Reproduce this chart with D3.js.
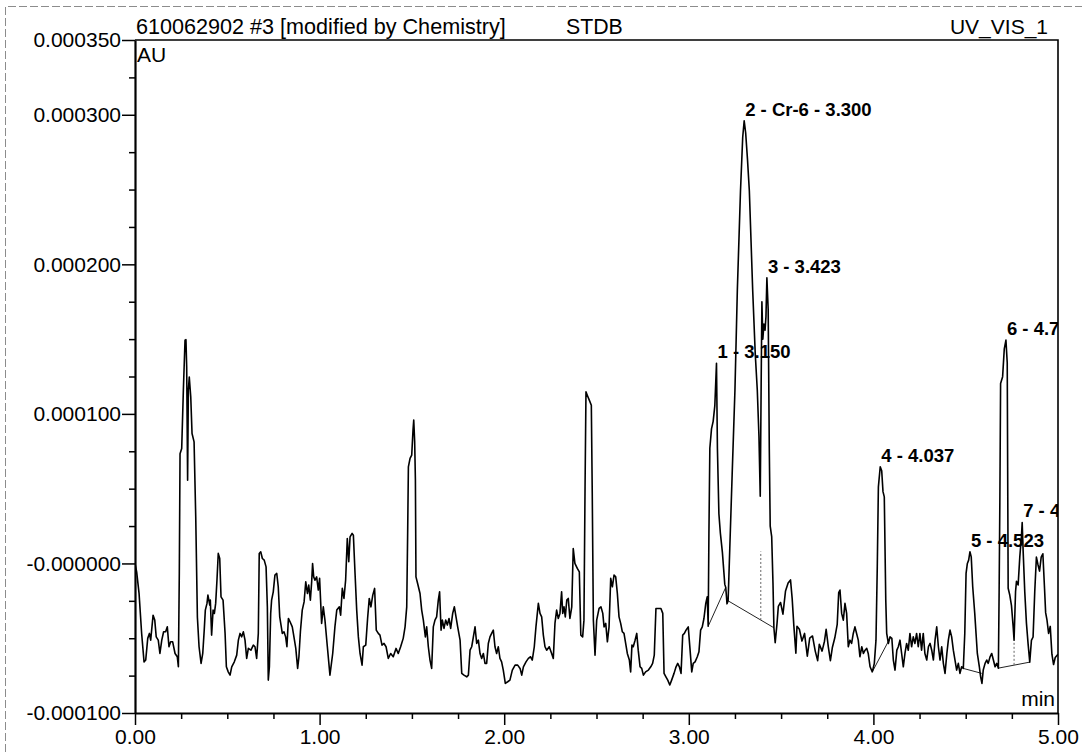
<!DOCTYPE html>
<html>
<head>
<meta charset="utf-8">
<script src="https://cdn.jsdelivr.net/npm/d3@7"></script>
<style>
  html, body { margin: 0; padding: 0; background: #fff; }
  svg { display: block; font-family: "Liberation Sans", Arial, sans-serif; }
</style>
</head>
<body>
<svg id="chart" width="1082" height="752"></svg>
<script>
// Chromatogram UV_VIS_1, retention time in minutes, signal in micro-AU (1e-6 AU)
const retentionTime = [
  0.000,0.009,0.022,0.036,0.049,0.058,0.069,0.078,0.085,0.098,0.107,0.115,0.126,0.135,0.145,0.155,0.166,0.175,0.184,0.193,
  0.204,0.217,0.229,0.235,0.240,0.244,0.253,0.262,0.271,0.276,0.280,0.285,0.289,0.294,0.302,0.309,0.320,0.329,0.338,0.347,
  0.358,0.367,0.375,0.381,0.390,0.395,0.405,0.408,0.415,0.423,0.430,0.437,0.444,0.451,0.459,0.466,0.477,0.488,0.495,0.505,
  0.515,0.524,0.538,0.551,0.560,0.569,0.578,0.587,0.596,0.605,0.614,0.628,0.641,0.650,0.659,0.668,0.673,0.681,0.690,0.700,
  0.710,0.717,0.722,0.728,0.735,0.740,0.749,0.758,0.768,0.776,0.784,0.791,0.798,0.807,0.816,0.823,0.831,0.840,0.852,0.861,
  0.871,0.881,0.888,0.896,0.906,0.916,0.925,0.934,0.941,0.950,0.957,0.962,0.968,0.975,0.984,0.993,1.000,1.011,1.020,1.029,
  1.042,1.056,1.071,1.083,1.093,1.107,1.114,1.123,1.132,1.141,1.150,1.158,1.165,1.176,1.183,1.192,1.201,1.210,1.219,1.230,
  1.237,1.250,1.260,1.269,1.278,1.288,1.298,1.307,1.318,1.327,1.338,1.349,1.360,1.372,1.385,1.399,1.414,1.426,1.439,1.453,
  1.463,1.472,1.477,1.481,1.490,1.499,1.506,1.510,1.515,1.519,1.522,1.531,1.544,1.553,1.562,1.573,1.580,1.589,1.598,1.607,
  1.616,1.625,1.634,1.643,1.650,1.658,1.665,1.674,1.683,1.692,1.701,1.710,1.721,1.730,1.739,1.748,1.761,1.770,1.782,1.797,
  1.806,1.815,1.824,1.833,1.842,1.851,1.860,1.869,1.878,1.887,1.896,1.905,1.914,1.923,1.932,1.941,1.950,1.959,1.968,1.977,
  1.986,1.995,2.006,2.019,2.031,2.044,2.059,2.073,2.086,2.095,2.104,2.118,2.131,2.143,2.152,2.163,2.172,2.185,2.194,2.203,
  2.212,2.221,2.230,2.244,2.257,2.266,2.275,2.284,2.293,2.302,2.311,2.317,2.324,2.331,2.339,2.347,2.356,2.366,2.374,2.383,
  2.396,2.407,2.415,2.425,2.432,2.438,2.443,2.450,2.461,2.472,2.477,2.483,2.492,2.501,2.514,2.524,2.534,2.541,2.550,2.559,
  2.568,2.577,2.586,2.595,2.604,2.613,2.622,2.631,2.640,2.649,2.658,2.667,2.678,2.685,2.692,2.699,2.709,2.718,2.726,2.736,
  2.745,2.754,2.766,2.781,2.794,2.804,2.813,2.822,2.835,2.849,2.859,2.866,2.876,2.886,2.897,2.907,2.920,2.931,2.940,2.949,
  2.958,2.967,2.976,2.985,2.997,3.007,3.016,3.024,3.034,3.046,3.055,3.064,3.073,3.082,3.092,3.100,3.105,3.109,3.114,3.123,
  3.132,3.141,3.150,3.155,3.163,3.171,3.182,3.195,3.200,3.204,3.207,3.213,3.222,3.235,3.250,3.263,3.280,3.292,3.300,3.308,
  3.318,3.328,3.346,3.360,3.371,3.380,3.387,3.392,3.396,3.401,3.407,3.413,3.418,3.423,3.430,3.436,3.441,3.449,3.456,3.461,
  3.468,3.478,3.485,3.497,3.510,3.524,3.538,3.551,3.560,3.569,3.580,3.586,3.599,3.613,3.627,3.642,3.655,3.670,3.685,3.698,
  3.707,3.722,3.735,3.744,3.756,3.767,3.778,3.791,3.804,3.812,3.819,3.828,3.837,3.846,3.855,3.864,3.873,3.882,3.891,3.900,
  3.909,3.918,3.927,3.937,3.946,3.955,3.964,3.972,3.982,3.994,4.005,4.014,4.021,4.027,4.032,4.037,4.045,4.052,4.059,4.067,
  4.072,4.081,4.090,4.100,4.108,4.117,4.127,4.135,4.144,4.153,4.162,4.171,4.180,4.189,4.198,4.207,4.216,4.225,4.234,4.243,
  4.252,4.261,4.270,4.279,4.289,4.298,4.307,4.316,4.325,4.334,4.343,4.352,4.361,4.370,4.379,4.388,4.398,4.406,4.415,4.424,
  4.433,4.442,4.451,4.460,4.469,4.478,4.487,4.495,4.502,4.509,4.516,4.523,4.530,4.538,4.549,4.556,4.563,4.574,4.581,4.588,
  4.595,4.605,4.614,4.622,4.632,4.641,4.650,4.659,4.668,4.677,4.681,4.685,4.689,4.700,4.709,4.718,4.725,4.730,4.739,4.748,
  4.757,4.762,4.770,4.775,4.784,4.793,4.802,4.806,4.811,4.820,4.829,4.838,4.847,4.856,4.865,4.874,4.883,4.891,4.900,4.909,
  4.918,4.927,4.933,4.940,4.949,4.958,4.967,4.976,4.985,5.000
];
const absorbance = [
  0,-5.6,-20,-46.8,-65.8,-64.6,-50.1,-46.8,-51.3,-34.6,-37.9,-49.1,-51.3,-60.2,-51.3,-45.7,-45.7,-42.4,-55.7,-52.4,
  -52.4,-60.2,-62.4,-69.1,-6.7,73.3,76.9,115.8,149.3,149.7,131.4,55.7,115.8,124.7,111.4,86.9,81.3,31.2,-36,-55.7,
  -66.8,-60.2,-44.6,-31.2,-26.7,-21.2,-27.9,-24.5,-47.9,-31.2,-33.4,-26.7,-11.2,6.7,3.3,-22.3,-24.5,-46.8,-69.1,-72.5,
  -74.7,-69.1,-65.8,-61.3,-51.3,-46.8,-49.1,-45.7,-51.3,-63.5,-56.8,-58,-54.6,-55.7,-63.5,-46.8,6.7,7.8,3.3,2.2,
  -2.3,-29,-78,-69.1,-33.4,-24.5,-19,-7.8,-6.7,-15.6,-35.7,-41.2,-46.8,-45.7,-49.1,-55.7,-36.8,-39,-42.4,-49.1,
  -56.8,-70.2,-62.4,-45.7,-31.2,-25.7,-12.3,-20.1,-14.5,-24.5,-12.3,0,-9,-11.2,-9,-17.8,-10,-40.1,-29,-37.9,
  -55.7,-74.7,-60.2,-42.4,-31.2,-29,-34.6,-16.7,-23.4,-11.2,16.7,1.1,17.8,20.1,18.9,-6.7,-31.2,-49.1,-60.2,-68,
  -55.7,-54.6,-36.8,-23.4,-29,-21.2,-16.7,-44.6,-46.8,-47.9,-54.6,-53.5,-55.7,-63.5,-60.2,-62.4,-56.8,-60.2,-55.7,-50.1,
  -42.4,-29,20.1,64.6,70.2,72.4,89.1,95.8,81.3,55.7,-9,-13.4,-20.1,-31.2,-37.9,-49.1,-42.4,-55.7,-64.6,-70.2,
  -42.4,-37.9,-35.7,-24.5,-19,-44.6,-37.9,-43.4,-37.9,-41.2,-36.8,-43.4,-33.4,-29,-35.7,-42.4,-51.3,-73.5,-74.7,-75.8,
  -74.7,-58,-55.7,-49.1,-42.4,-53.5,-51.3,-60.2,-63.5,-60.2,-66.8,-66.8,-53.5,-49.1,-46.8,-44.6,-55.7,-60.2,-55.7,-63.5,
  -65.8,-71.3,-80.2,-79.1,-78,-71.3,-68,-68,-70.2,-74.7,-69.1,-65.8,-63.5,-62.4,-64.6,-55.7,-42.4,-26.7,-33.4,-35.7,
  -47.9,-55.7,-58,-55.7,-60.2,-63.5,-40.1,-31.2,-36.8,-33.4,-19,-33.4,-29,-35.7,-24.5,-23.4,-36.8,-29,10,0,
  -3.3,-5.6,-47.9,-49.1,-37.9,51.2,114.7,112.5,109.2,105.8,46.8,-37.9,-61.3,-37.9,-30.1,-29,-33.4,-42.4,-40.1,-52.4,
  -42.4,-10,-15.6,-7.8,-9,-20.1,-35.7,-40.1,-45.7,-46.8,-53.5,-60.2,-64.6,-72.5,-54.6,-55.7,-51.3,-46.8,-58,-69.1,
  -70.2,-74.7,-72.5,-71.3,-69.1,-66.8,-61.3,-30.1,-30.1,-30.1,-33.4,-73.5,-75.8,-78,-81.3,-78,-73.5,-69.1,-66.8,-69.1,
  -73.5,-47.9,-46.8,-44.6,-42.4,-58,-72.5,-66.8,-65.8,-62.4,-59.1,-44.6,-42.4,-36.8,-26.7,-22.3,-42,20,77,90,
  95,105.5,133.9,77,33.2,20.3,7.4,-14,-16,-22,-27,-25,10,60,116,183,249,285,296,288,
  270,249,183,140,116,85,45,120,175,150,160,156,165,191,170,77,25,18,-13,-43,
  -53,-40,-28.7,-26.1,-33.9,-18.4,-13,-11,-23.5,-41.6,-60,-42,-44,-51.9,-46.8,-62,-50,-48.5,-58.6,-65,
  -54,-58.6,-52,-44,-56,-65,-56,-49.7,-40.7,-19.5,-17.8,-33.4,-37.9,-26.7,-33.4,-55.7,-51.3,-53.5,-46.8,-42.4,
  -46.8,-51.3,-62.4,-55.7,-60.2,-58,-56.8,-60.2,-69.1,-72.5,-66.8,-51.3,-2.3,51.2,58,64.6,62,48,44.5,-24.5,
  -46.8,-53.5,-49.1,-50.1,-64.6,-71.3,-58,-55.7,-51.3,-60.2,-69.1,-60.2,-53.5,-58,-46.8,-55.7,-49.1,-53.5,-46.8,-55.7,
  -46.8,-58,-46.8,-60.2,-64.6,-55.7,-53.5,-58,-64.6,-51.3,-42.4,-55.7,-64.6,-55.7,-66.8,-73.5,-60.2,-51.3,-44.6,-49.1,
  -58,-64.6,-71.3,-66.8,-73.5,-69.1,-70.2,-46.8,-6.7,0,2.2,7.8,4.4,-15.6,-33.4,-46.8,-60.2,-69.1,-75.8,-80.2,
  -71.3,-66.8,-64.6,-66.8,-62.4,-60.2,-64.6,-69.1,-66.8,-70,-20,41,120.3,124.9,143.5,149.3,134.2,-16.6,-21.3,-28.2,
  -42.1,-51.4,-18.9,-12,-14.4,4.2,18.2,27.4,8.8,-19.1,-39.9,-53.8,-66,-51.5,-49.2,-19.1,4.2,-0.5,-5.1,4.2,
  6.5,-16.6,-32.9,-37.5,-46.8,-42.1,-60.7,-67.6,-62.9,-60.7
];

// Axis ticks and their printed labels
const yMajorTicks = [-100, 0, 100, 200, 300, 350];
const yTickLabels = ["-0.000100", "-0.000000", "0.000100", "0.000200", "0.000300", "0.000350"];
const xMajorTicks = [0, 1, 2, 3, 4, 5];
const xTickLabels = ["0.00", "1.00", "2.00", "3.00", "4.00", "5.00"];

// Integrated peaks: label text and retention time of the apex
const peakLabels = ["1 - 3.150", "2 - Cr-6 - 3.300", "3 - 3.423", "4 - 4.037", "5 - 4.523", "6 - 4.7", "7 - 4"];
const peakTimes = [3.150, 3.300, 3.423, 4.037, 4.523, 4.718, 4.806];

// Integration baselines: [t0, v0, t1, v1]
const integrationBaselines = [
  [3.105, -42, 3.200, -16],
  [3.213, -25, 3.461, -43],
  [3.994, -72.5, 4.090, -50],
  [4.487, -70.2, 4.587, -73.5],
  [4.677, -70, 4.847, -66]
];
// Perpendicular drops between fused peaks: [t, vBottom, vTop]
const peakDrops = [
  [3.390, -37.8, 8],
  [4.762, -67.8, -51.4]
];

const headerLeft = "610062902 #3 [modified by Chemistry]";
const headerMid = "STDB";
const headerRight = "UV_VIS_1";

const svg = d3.select("#chart");
const x = d3.scaleLinear().domain([0, 5]).range([135, 1058]);
const y = d3.scaleLinear().domain([-100, 350]).range([713, 40]);

const points = retentionTime.map((t, i) => ({ t, v: absorbance[i] }));

// page border (dashed)
svg.append("path")
  .attr("d", "M5.5,752 V6.5 H1082")
  .attr("fill", "none")
  .attr("stroke", "#8c8c8c")
  .attr("stroke-width", 1)
  .attr("stroke-dasharray", "8,3");

// clip for the plot area
svg.append("clipPath").attr("id", "plotClip")
  .append("rect")
  .attr("x", x(0)).attr("y", y(350))
  .attr("width", x(5) - x(0)).attr("height", y(-100) - y(350));

// frame: top and right edges
svg.append("path")
  .attr("d", `M${x(0)},${y(350)} H${x(5)} V${y(-100)}`)
  .attr("fill", "none")
  .attr("stroke", "#000")
  .attr("stroke-width", 1.6);

// y axis
const yMinor = d3.range(-100, 351, 25).filter(v => !yMajorTicks.includes(v));
const gy = svg.append("g")
  .attr("transform", `translate(${x(0)},0)`)
  .call(d3.axisLeft(y).tickValues(yMajorTicks)
    .tickFormat((d, i) => yTickLabels[i])
    .tickSize(13).tickSizeOuter(0).tickPadding(1));
svg.append("g")
  .attr("transform", `translate(${x(0)},0)`)
  .call(d3.axisLeft(y).tickValues(yMinor).tickFormat("").tickSize(6).tickSizeOuter(0))
  .call(g => g.select(".domain").remove());

// x axis
const xMinor = d3.range(0, 5.001, 0.25).filter(v => Math.abs(v - Math.round(v)) > 1e-6);
const gx = svg.append("g")
  .attr("transform", `translate(0,${y(-100)})`)
  .call(d3.axisBottom(x).tickValues(xMajorTicks)
    .tickFormat((d, i) => xTickLabels[i])
    .tickSize(12).tickSizeOuter(0).tickPadding(4));
svg.append("g")
  .attr("transform", `translate(0,${y(-100)})`)
  .call(d3.axisBottom(x).tickValues(xMinor).tickFormat("").tickSize(6).tickSizeOuter(0))
  .call(g => g.select(".domain").remove());

svg.selectAll(".tick line").attr("stroke", "#000").attr("stroke-width", 1.5);
svg.selectAll(".domain").attr("stroke", "#000").attr("stroke-width", 2.2);
[gx, gy].forEach(g => g
  .attr("font-size", 21)
  .attr("font-family", "'Liberation Sans', Arial, sans-serif")
  .selectAll("text").attr("fill", "#000"));

// header texts
svg.append("text").attr("x", 136).attr("y", 34).attr("font-size", 21.6).text(headerLeft);
svg.append("text").attr("x", 566).attr("y", 34).attr("font-size", 21.3).text(headerMid);
svg.append("text").attr("x", 1048).attr("y", 34).attr("font-size", 21)
  .attr("text-anchor", "end").text(headerRight);

// unit labels
svg.append("text").attr("x", x(0) + 2).attr("y", 62).attr("font-size", 21).text("AU");
svg.append("text").attr("x", x(5) - 3).attr("y", 706).attr("font-size", 21)
  .attr("text-anchor", "end").text("min");

const plot = svg.append("g").attr("clip-path", "url(#plotClip)");

// integration baselines
plot.selectAll("line.base").data(integrationBaselines).join("line")
  .attr("class", "base")
  .attr("x1", d => x(d[0])).attr("y1", d => y(d[1]))
  .attr("x2", d => x(d[2])).attr("y2", d => y(d[3]))
  .attr("stroke", "#222").attr("stroke-width", 1);

plot.selectAll("line.drop").data(peakDrops).join("line")
  .attr("class", "drop")
  .attr("x1", d => x(d[0])).attr("y1", d => y(d[1]))
  .attr("x2", d => x(d[0])).attr("y2", d => y(d[2]))
  .attr("stroke", "#666").attr("stroke-width", 1)
  .attr("stroke-dasharray", "2,2");

// signal trace
plot.append("path")
  .datum(points)
  .attr("fill", "none")
  .attr("stroke", "#000")
  .attr("stroke-width", 1.6)
  .attr("stroke-linejoin", "round")
  .attr("d", d3.line().x(d => x(d.t)).y(d => y(d.v)));

// peak labels at each apex
const apexes = peakTimes.map(pt => {
  const near = points.filter(p => Math.abs(p.t - pt) <= 0.008);
  return d3.greatest(near, p => p.v);
});
plot.selectAll("text.peak").data(peakLabels).join("text")
  .attr("class", "peak")
  .attr("x", (d, i) => x(peakTimes[i]) + 1)
  .attr("y", (d, i) => y(apexes[i].v) - 5)
  .attr("font-size", 18.5)
  .attr("font-weight", "bold")
  .text(d => d);
</script>
</body>
</html>
